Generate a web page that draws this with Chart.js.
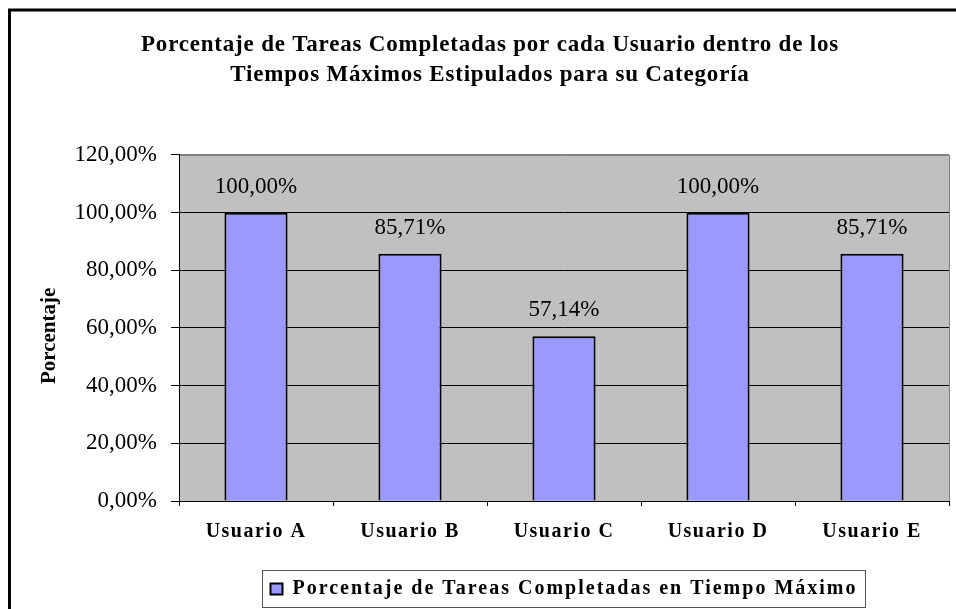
<!DOCTYPE html>
<html><head><meta charset="utf-8">
<script src="https://cdn.jsdelivr.net/npm/chart.js@4/dist/chart.umd.min.js"></script>
<style>html,body{margin:0;padding:0;background:#fff;}#wrap{width:956px;height:609px;}</style>
</head><body><div id="wrap"><canvas id="c" width="956" height="609"></canvas></div>
<script>
const categories = ['Usuario A', 'Usuario B', 'Usuario C', 'Usuario D', 'Usuario E'];
const seriesName = 'Porcentaje de Tareas Completadas en Tiempo Máximo';
const values = [100, 85.71, 57.14, 100, 85.71];
const yMin = 0, yMax = 120, yStep = 20;
const titleLines = ['Porcentaje de Tareas Completadas por cada Usuario dentro de los', 'Tiempos Máximos Estipulados para su Categoría'];
const yTitle = 'Porcentaje';

const SERIF = "'Times New Roman', 'Liberation Serif', serif";
const fmt = v => v.toFixed(2).replace('.', ',') + '%';

function withSpacing(obj, name, sp) {
  const orig = obj[name];
  obj[name] = function () { const c = this.ctx; c.save(); c.letterSpacing = sp; const r = orig.apply(this, arguments); c.restore(); return r; };
}

const spacingPlugin = {
  id: 'spacing',
  beforeLayout(chart) {
    const lg = chart.legend;
    if (lg && !lg._patched) { lg._patched = true; withSpacing(lg, 'fit', '2px'); withSpacing(lg, 'draw', '2px'); }
    const tt = chart.titleBlock;
    if (tt && !tt._patched) { tt._patched = true; withSpacing(tt, 'draw', '0.8px'); }
    const xs = chart.scales.x;
    if (xs && !xs._patched) { xs._patched = true; withSpacing(xs, 'drawLabels', '1.5px'); }
  }
};

const bgPlugin = {
  id: 'bg',
  beforeDraw(chart) {
    const { ctx, chartArea: a } = chart;
    ctx.save();
    ctx.fillStyle = '#C0C0C0';
    ctx.fillRect(a.left, a.top, a.right - a.left, a.bottom - a.top);
    ctx.strokeStyle = '#808080';
    ctx.lineWidth = 1;
    ctx.strokeRect(a.left + 0.5, a.top + 0.5, a.right - a.left, a.bottom - a.top);
    ctx.restore();
  },
  afterDraw(chart) {
    const ctx = chart.ctx;
    ctx.save();
    ctx.strokeStyle = '#000';
    ctx.lineWidth = 3;
    ctx.strokeRect(9.5, 10, 1000, 700);
    const hb = chart.legend.legendHitBoxes[0];
    if (hb) {
      ctx.strokeStyle = '#555';
      ctx.lineWidth = 1;
      ctx.strokeRect(Math.round(hb.left - 8) + 0.5, Math.round(hb.top - 9) + 0.5, Math.round(hb.width + 16), Math.round(hb.height + 17));
    }
    ctx.restore();
  }
};

const labelPlugin = {
  id: 'vlabels',
  afterDatasetsDraw(chart) {
    const ctx = chart.ctx;
    const meta = chart.getDatasetMeta(0);
    ctx.save();
    ctx.font = '23px ' + SERIF;
    ctx.fillStyle = '#000';
    ctx.textAlign = 'center';
    ctx.textBaseline = 'alphabetic';
    meta.data.forEach((bar, i) => {
      ctx.fillText(fmt(chart.data.datasets[0].data[i]), bar.x, bar.y - 20);
    });
    ctx.restore();
  }
};

new Chart(document.getElementById('c'), {
  type: 'bar',
  data: {
    labels: categories,
    datasets: [{
      label: seriesName,
      data: values,
      backgroundColor: '#9999FF',
      borderColor: '#000',
      borderWidth: 2,
      barPercentage: 0.41,
      categoryPercentage: 1
    }]
  },
  options: {
    responsive: false,
    devicePixelRatio: 1,
    animation: false,
    layout: { padding: { left: 31, right: 7, top: 0, bottom: 0 } },
    plugins: {
      tooltip: { enabled: false },
      title: {
        display: true,
        text: titleLines,
        color: '#000',
        font: { family: SERIF, size: 23, weight: 'bold', lineHeight: 1.3043 },
        padding: { top: 30, bottom: 65 }
      },
      legend: {
        display: true,
        position: 'bottom',
        fullSize: false,
        labels: {
          boxWidth: 12,
          boxHeight: 11,
          color: '#000',
          font: { family: SERIF, size: 20, weight: 'bold' },
          padding: 10
        }
      }
    },
    scales: {
      x: {
        grid: { display: true, drawOnChartArea: false, drawTicks: true, tickLength: 5, color: '#000', offset: true },
        border: { display: true, color: '#000', width: 1 },
        ticks: { color: '#000', font: { family: SERIF, size: 20, weight: 'bold' }, padding: 14, maxRotation: 0, autoSkip: false },
        afterFit(s) { s.height = 68; }
      },
      y: {
        min: yMin, max: yMax,
        ticks: { stepSize: yStep, color: '#000', font: { family: SERIF, size: 23 }, padding: 14, callback: v => fmt(v) },
        grid: { color: c => (c.tick && c.tick.value === yMax) ? '#808080' : '#000', tickColor: '#000', tickLength: 8, lineWidth: 1 },
        border: { display: true, color: '#000', width: 1 },
        title: { display: true, text: yTitle + '   ', color: '#000', font: { family: SERIF, size: 21, weight: 'bold' }, padding: { top: 6, bottom: 0 } },
        afterFit(s) { s.width = 148; }
      }
    }
  },
  plugins: [spacingPlugin, bgPlugin, labelPlugin]
});
</script>
</body></html>
